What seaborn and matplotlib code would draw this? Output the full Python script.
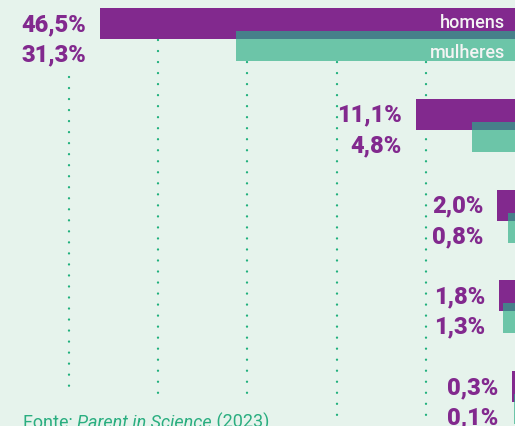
import matplotlib
matplotlib.use("Agg")
import matplotlib.pyplot as plt
import numpy as np
import pandas as pd
import seaborn as sns

# Percentages per group (men / women)
homens = [46.5, 11.1, 2.0, 1.8, 0.3]
mulheres = [31.3, 4.8, 0.8, 1.3, 0.1]
series_labels = ["homens", "mulheres"]
grid_values = [10, 20, 30, 40, 50]
fonte_prefix = "Fonte: "
fonte_title = "Parent in Science"
fonte_year = " (2023)"

# Colours
BG = "#e6f3ec"
PURPLE = "#82298e"
TEAL = "#6cc5a8"
OVERLAP = "#46808a"
GRID = "#1fb07c"
SOURCE = "#2aae80"

# Geometry (pixels -> data units)
W_PX, H_PX = 515, 427
PX_PER_PCT = 8.92
GROUP_PX = 90.75
TOP_CENTER_PX = 24.5


def py(px):
    """Pixel row -> y data units (group index scale)."""
    return (px - TOP_CENTER_PX) / GROUP_PX


def dy(px):
    return px / GROUP_PX


sns.set_theme(style="white")
plt.rcParams["font.family"] = ["Roboto", "DejaVu Sans"]

fig = plt.figure(figsize=(W_PX / 100, H_PX / 100), dpi=100)
fig.patch.set_facecolor(BG)
ax = fig.add_axes([0, 0, 1, 1])
ax.set_facecolor(BG)

idx = np.arange(len(homens))
df_h = pd.DataFrame({"valor": homens, "pos": idx + 0.0})
df_m = pd.DataFrame({"valor": mulheres, "pos": idx + dy(22.5)})
df_o = pd.DataFrame({"valor": mulheres, "pos": idx + dy(11.5)})

common = dict(x="valor", y="pos", orient="h", native_scale=True,
              saturation=1, errorbar=None, linewidth=0, ax=ax)
sns.barplot(data=df_h, width=dy(31), color=PURPLE, zorder=3, **common)
sns.barplot(data=df_m, width=dy(30), color=TEAL, zorder=4, **common)
sns.barplot(data=df_o, width=dy(8), color=OVERLAP, zorder=5, **common)

# Dotted vertical guides
grid_start_px = {50: 78, 40: 41, 30: 41, 20: 41, 10: 41}
grid_end_px = {50: 396, 40: 396, 30: 396, 20: 416, 10: 416}
lw = 1.7
ax.vlines(grid_values,
          [py(grid_start_px[g]) for g in grid_values],
          [py(grid_end_px[g]) for g in grid_values],
          colors=GRID, linewidth=lw, linestyles=[(0, (0.01, 7.92 / lw))],
          capstyle="round", zorder=1)

# Value labels to the left of each pair of bars
fmt = lambda v: f"{v:.1f}".replace(".", ",") + "%"
for i, (h, m) in enumerate(zip(homens, mulheres)):
    lx = h + 14 / PX_PER_PCT
    ax.text(lx, i + dy(6.5), fmt(h), ha="right", va="baseline",
            fontsize=17, fontweight="heavy", color=PURPLE, zorder=6)
    ax.text(lx, i + dy(37), fmt(m), ha="right", va="baseline",
            fontsize=17, fontweight="heavy", color=PURPLE, zorder=6)

# Series names inside the first bars
ax.text(10 / PX_PER_PCT, dy(3.5), series_labels[0], ha="right", va="baseline",
        fontsize=13, fontweight="medium", color="#f4f4f4", zorder=7)
ax.text(10 / PX_PER_PCT, dy(33.5), series_labels[1], ha="right", va="baseline",
        fontsize=13, fontweight="medium", color="#f4f4f4", zorder=7)

# Source line
t1 = ax.text((W_PX - 23) / PX_PER_PCT, py(428), fonte_prefix, ha="left",
             va="baseline", fontsize=13, color=SOURCE)
t2 = ax.annotate(fonte_title, xy=(1, 0), xycoords=t1, ha="left", va="bottom",
                 fontsize=13, fontstyle="italic", color=SOURCE)
ax.annotate(fonte_year, xy=(1, 0), xycoords=t2, ha="left", va="bottom",
            fontsize=13, color=SOURCE)

ax.set_xlim(W_PX / PX_PER_PCT, 0)
ax.set_ylim(py(H_PX), py(0))
ax.set_axis_off()

fig.savefig("out.png", dpi=100, facecolor=BG)
